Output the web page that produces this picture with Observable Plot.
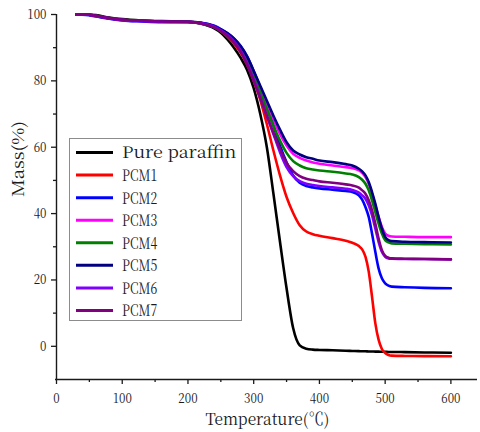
<!DOCTYPE html>
<html>
<head>
<meta charset="utf-8">
<script src="https://cdn.jsdelivr.net/npm/d3@7"></script>
<script src="https://cdn.jsdelivr.net/npm/@observablehq/plot@0.6"></script>
<style>
  html, body { margin: 0; padding: 0; background: #fff; }
  #wrap { position: relative; width: 480px; height: 432px; overflow: hidden; }
  #legend { position: absolute; left: 69px; top: 138px; }
</style>
</head>
<body>
<div id="wrap"></div>
<script>
// ---------------- data ----------------
const temps = [30, 45, 60, 80, 100, 130, 160, 200, 220, 240,
  250, 260, 270, 280, 290, 300, 310, 320, 330, 340, 350, 360, 370, 380, 390, 400,
  420, 440, 450, 460, 465, 470, 475, 480, 485, 490, 495, 500, 505, 510, 530, 560, 600];

const pureParaffin = [100, 100, 99.8, 99.1, 98.6, 98.2, 98.0, 97.8, 97.2, 95.8,
  94.5, 92.5, 90, 87, 83.3, 77.8, 70, 60, 46, 31.5, 17.5, 5.5, 0.3, -0.7, -1.0, -1.1,
  -1.2, -1.35, -1.4, -1.45, -1.5, -1.5, -1.55, -1.55, -1.6, -1.6, -1.65, -1.65, -1.7, -1.7, -1.75, -1.85, -1.95];
const pcm1 = [100, 100, 99.6, 98.9, 98.4, 98.1, 97.9, 97.8, 97.4, 96.2,
  95, 93.3, 91.2, 88.5, 85, 80, 74.3, 67, 59, 51.5, 45, 40.2, 36.5, 34.6, 33.8, 33.3,
  32.6, 31.8, 31.2, 30.2, 29.2, 27, 22.5, 15, 7, 2, -0.8, -2, -2.6, -2.8, -2.9, -2.95, -3];
const pcm2 = [100, 99.9, 99.4, 98.7, 98.2, 97.9, 97.7, 97.7, 97.5, 96.6,
  95.6, 94.4, 92.8, 90.6, 87.4, 83, 78, 72.5, 66.5, 60.5, 55.5, 51.5, 49.3, 48.3, 47.9, 47.6,
  47.2, 46.8, 46.5, 45.5, 44.2, 42, 39, 34, 28.5, 23.5, 20.5, 19, 18.3, 18, 17.8, 17.6, 17.5];
const pcm3 = [100, 100, 99.6, 98.9, 98.4, 98.1, 97.9, 97.8, 97.4, 96.4,
  95.3, 94.1, 92.4, 90.1, 86.9, 82.5, 78, 73, 68.5, 64, 60.5, 58, 56.8, 56, 55.4, 55,
  54.5, 54, 53.7, 53, 52.3, 51, 49, 46, 42.5, 39, 36, 34, 33.3, 33.1, 33, 32.9, 32.9];
const pcm4 = [100, 100, 99.6, 98.9, 98.4, 98.1, 97.9, 97.8, 97.3, 96.1,
  95, 93.6, 91.8, 89.3, 85.9, 81.5, 76.5, 71.5, 66.5, 62, 58.3, 55.8, 54.5, 53.7, 53.3, 53,
  52.6, 52.1, 51.8, 51, 50.2, 49, 47, 44, 40.5, 37, 34, 32, 31.3, 31, 30.9, 30.8, 30.7];
const pcm5 = [100, 100, 99.6, 98.9, 98.4, 98.1, 97.9, 97.8, 97.5, 96.5,
  95.5, 94.3, 92.7, 90.4, 87.3, 83, 78.5, 74, 69.5, 65.3, 61.5, 59, 57.8, 57, 56.5, 56,
  55.5, 54.9, 54.5, 53.5, 52.7, 51.5, 49.5, 46.5, 43, 39, 35.5, 33, 32, 31.7, 31.5, 31.4, 31.3];
const pcm6 = [100, 100, 99.5, 98.8, 98.3, 98.0, 97.8, 97.7, 97.4, 96.3,
  95.2, 93.8, 91.9, 89.2, 85.4, 80.5, 75, 69.5, 64, 58.5, 54, 51.3, 49.8, 49, 48.6, 48.3,
  47.9, 47.5, 47.1, 46.3, 45.5, 44.5, 42.5, 39.5, 35.5, 31.5, 28.5, 27, 26.5, 26.4, 26.3, 26.3, 26.2];
const pcm7 = [100, 100, 99.6, 98.9, 98.4, 98.1, 97.9, 97.8, 97.3, 96.1,
  95, 93.6, 91.6, 88.8, 84.9, 80, 74.8, 69.5, 64.3, 59.5, 55.3, 52.8, 51.3, 50.5, 50.1, 49.7,
  49.3, 48.8, 48.5, 47.8, 47, 46, 44, 41, 37, 32.5, 29, 27.3, 26.7, 26.5, 26.4, 26.3, 26.2];

const seriesNames = ["Pure paraffin", "PCM1", "PCM2", "PCM3", "PCM4", "PCM5", "PCM6", "PCM7"];
const seriesColors = ["#000000", "#ff0000", "#0000ff", "#ff00ff", "#008000", "#000080", "#8000ff", "#800080"];
const seriesValues = [pureParaffin, pcm1, pcm2, pcm3, pcm4, pcm5, pcm6, pcm7];

const xMajorTicks = [0, 100, 200, 300, 400, 500, 600];
const xMinorTicks = [50, 150, 250, 350, 450, 550];
const yMajorTicks = [0, 20, 40, 60, 80, 100];
const yMinorTicks = [10, 30, 50, 70, 90];
const xTitle = "Temperature(℃)";
const yTitle = "Mass(%)";

// ---------------- build ----------------
const data = seriesNames.flatMap((name, i) =>
  temps.map((t, j) => ({name, t, m: seriesValues[i][j]})));

const font = '"Noto Serif CJK SC", "Liberation Serif", serif';
const ink = "#1a1a1a";

const chart = Plot.plot({
  width: 480, height: 432,
  marginLeft: 56, marginRight: 2, marginTop: 14, marginBottom: 53,
  style: {fontFamily: font, fontSize: "13.5px", color: ink, background: "#fff", overflow: "visible"},
  x: {domain: [0, 642]},
  y: {domain: [-10, 100]},
  color: {domain: seriesNames, range: seriesColors},
  marks: [
    Plot.axisX(xMajorTicks, {tickSize: 5, tickPadding: 9, strokeWidth: 1.3, label: null, fontSize: 13.5}),
    Plot.axisX(xMinorTicks, {tickSize: 3, text: null, strokeWidth: 1.3, label: null}),
    Plot.axisY(yMajorTicks, {tickSize: 5, tickPadding: 5, strokeWidth: 1.3, label: null, fontSize: 13.5}),
    Plot.axisY(yMinorTicks, {tickSize: 3, text: null, strokeWidth: 1.3, label: null}),
    Plot.ruleX([0], {strokeWidth: 1.4}),
    Plot.ruleY([-10], {strokeWidth: 1.4, dx: -1}),
    Plot.line(data, {x: "t", y: "m", z: "name", stroke: "name", strokeWidth: 2.6, curve: "monotone-x"}),
    Plot.text([xTitle], {frameAnchor: "bottom", dy: 45, fontSize: 16.5, fill: ink}),
    Plot.text([yTitle], {frameAnchor: "left", rotate: -90, dx: -38, fontSize: 16.5, fill: ink})
  ]
});

const wrap = document.getElementById("wrap");
wrap.appendChild(chart);

// narrow, half-width look of the original Song typeface
chart.querySelectorAll('g[aria-label$="tick label"] text').forEach(t => {
  t.setAttribute("textLength", t.textContent.length * 6.4);
  t.setAttribute("lengthAdjust", "spacingAndGlyphs");
});
chart.querySelectorAll("text").forEach(t => {
  if (t.textContent === xTitle) { t.setAttribute("textLength", 124); t.setAttribute("lengthAdjust", "spacingAndGlyphs"); }
  if (t.textContent === yTitle) { t.setAttribute("textLength", 76); t.setAttribute("lengthAdjust", "spacingAndGlyphs"); }
});

// ---------------- legend (boxed, inside the plot area) ----------------
const lw = 173, lh = 183, rowGap = 22.57;
const legend = d3.create("svg")
  .attr("id", "legend")
  .attr("width", lw).attr("height", lh)
  .style("font-family", font).style("font-size", "16px");
legend.append("rect")
  .attr("x", 0.5).attr("y", 0.5).attr("width", lw - 1).attr("height", lh - 1)
  .attr("fill", "#fff").attr("stroke", "#8c8c8c").attr("stroke-width", 1);
const rows = legend.selectAll("g.row").data(seriesNames).join("g")
  .attr("class", "row")
  .attr("transform", (d, i) => `translate(0,${14.5 + rowGap * i})`);
rows.append("line")
  .attr("x1", 7).attr("x2", 44).attr("y1", 0).attr("y2", 0)
  .attr("stroke", (d, i) => seriesColors[i]).attr("stroke-width", 3);
rows.append("text")
  .attr("x", 53).attr("dy", "0.37em").attr("fill", ink)
  .attr("textLength", d => d.length * 8.8)
  .attr("lengthAdjust", "spacingAndGlyphs")
  .text(d => d);
wrap.appendChild(legend.node());
</script>
</body>
</html>
